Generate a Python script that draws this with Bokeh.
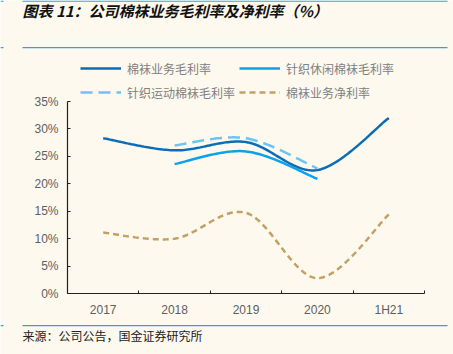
import numpy as np
from bokeh.plotting import figure
from bokeh.models import (Range1d, FixedTicker, PrintfTickFormatter, Legend,
                          LegendItem, Label, BoxAnnotation, LinearAxis)
from bokeh.embed import file_html
from bokeh.resources import INLINE

# ---- data (percent) ----
categories = ["2017", "2018", "2019", "2020", "1H21"]
cotton_gross = [28.3, 26.1, 27.6, 22.5, 32.0]      # 棉袜业务毛利率
casual_gross = [None, 23.6, 25.9, 20.9, None]      # 针织休闲棉袜毛利率
sport_gross = [None, 27.0, 28.3, 22.8, None]       # 针织运动棉袜毛利率
cotton_net = [11.1, 10.0, 14.7, 2.8, 14.4]         # 棉袜业务净利率
y_ticks = [0, 5, 10, 15, 20, 25, 30, 35]

series_names = ["棉袜业务毛利率", "针织休闲棉袜毛利率", "针织运动棉袜毛利率", "棉袜业务净利率"]

BG = "#FDF9EF"
RULE = "#27A6E1"
W, H = 453, 354
# plot area in canvas pixels
FL, FR, FT, FB = 67, 424, 101, 293


def smooth(values, n=40):
    pts = [(i + 1.0, v) for i, v in enumerate(values) if v is not None]
    P = np.array(pts)
    xs, ys = [P[0, 0]], [P[0, 1]]
    for i in range(len(P) - 1):
        p0 = P[i - 1] if i > 0 else P[i]
        p1, p2 = P[i], P[i + 1]
        p3 = P[i + 2] if i + 2 < len(P) else P[i + 1]
        c1 = p1 + (p2 - p0) / 6.0
        c2 = p2 - (p3 - p1) / 6.0
        t = np.linspace(0, 1, n)[1:, None]
        b = ((1 - t) ** 3) * p1 + 3 * ((1 - t) ** 2) * t * c1 + 3 * (1 - t) * t ** 2 * c2 + t ** 3 * p2
        xs.extend(b[:, 0]); ys.extend(b[:, 1])
    return xs, ys


x0, x1 = 0.5, len(categories) + 0.5
y0, y1 = y_ticks[0], y_ticks[-1]
xs_per_px = (x1 - x0) / (FR - FL)
ys_per_px = (y1 - y0) / (FB - FT)

p = figure(width=W, height=H, output_backend="svg", toolbar_location=None,
           title=None, x_axis_location=None, y_axis_location=None,
           x_range=Range1d(x0 - FL * xs_per_px, x1 + (W - FR) * xs_per_px),
           y_range=Range1d(y0 - (H - FB) * ys_per_px, y1 + FT * ys_per_px),
           min_border=0, min_border_left=0, min_border_right=0,
           min_border_top=0, min_border_bottom=0,
           background_fill_color=BG, border_fill_color=BG, outline_line_color=None)
p.grid.visible = False

# axes
xaxis = LinearAxis(fixed_location=y0, bounds=(x0, x1),
                   ticker=FixedTicker(ticks=list(range(1, len(categories) + 1)),
                                      minor_ticks=[i + 0.5 for i in range(len(categories) + 1)]),
                   major_label_overrides={i + 1: c for i, c in enumerate(categories)},
                   major_tick_in=0, major_tick_out=0, minor_tick_in=3, minor_tick_out=0,
                   minor_tick_line_color="#222222")
yaxis = LinearAxis(fixed_location=x0, bounds=(y0, y1),
                   ticker=FixedTicker(ticks=y_ticks),
                   formatter=PrintfTickFormatter(format="%d%%"),
                   major_tick_in=3, major_tick_out=0, minor_tick_line_color=None)
for ax in (xaxis, yaxis):
    ax.axis_line_color = "#222222"
    ax.axis_line_width = 1.2
    ax.major_tick_line_color = "#222222"
    ax.major_label_text_font = "Liberation Sans"
    ax.major_label_text_font_size = "12px"
    ax.major_label_text_color = "#5E5E5E"
xaxis.major_label_standoff = 9
yaxis.major_label_standoff = 9
p.add_layout(xaxis, "below")
p.add_layout(yaxis, "left")

# series
r1 = p.line(*smooth(cotton_gross), line_color="#0B6DB5", line_width=2.5)
r2 = p.line(*smooth(casual_gross), line_color="#0AA2E8", line_width=2.5)
r3 = p.line(*smooth(sport_gross), line_color="#6CC4F0", line_width=2.5, line_dash="12 6")
r4 = p.line(*smooth(cotton_net), line_color="#C4A063", line_width=2.5, line_dash="6 4")

legend = Legend(items=[LegendItem(label=series_names[0], renderers=[r1]),
                       LegendItem(label=series_names[1], renderers=[r2]),
                       LegendItem(label=series_names[2], renderers=[r3]),
                       LegendItem(label=series_names[3], renderers=[r4])],
                location=(80, H - 102), orientation="horizontal", ncols=2,
                glyph_width=41, glyph_height=20, label_height=20,
                label_standoff=6, spacing=4, padding=0, margin=0,
                border_line_color=None, background_fill_alpha=0,
                label_text_font="Noto Sans CJK SC", label_text_font_size="12px",
                label_text_color="#808080")
p.add_layout(legend, "center")

# title / source text (screen units from canvas bottom-left)
p.add_layout(Label(x=22, y=H - 10, x_units="screen", y_units="screen",
                   text="图表 11：公司棉袜业务毛利率及净利率（%）",
                   text_font="Noto Sans CJK SC", text_font_size="15px",
                   text_font_style="bold italic", text_color="#111111",
                   text_baseline="middle"))
p.add_layout(Label(x=22, y=H - 335, x_units="screen", y_units="screen",
                   text="来源：公司公告，国金证券研究所",
                   text_font="Noto Sans CJK SC", text_font_size="12px",
                   text_color="#222222", text_baseline="middle"))

# decorative rules (main rules plus the cut-off stubs at the left edge)
for y_top in (0, 46.5, 324.5):
    for lft, rgt in ((22, 447), (0, 3)):
        p.add_layout(BoxAnnotation(left=lft, right=rgt, top=H - y_top, bottom=H - y_top - 1.3,
                                   left_units="screen", right_units="screen",
                                   top_units="screen", bottom_units="screen",
                                   fill_color=RULE, fill_alpha=1, line_color=None))

open("out.html", "w").write(file_html(p, INLINE))
